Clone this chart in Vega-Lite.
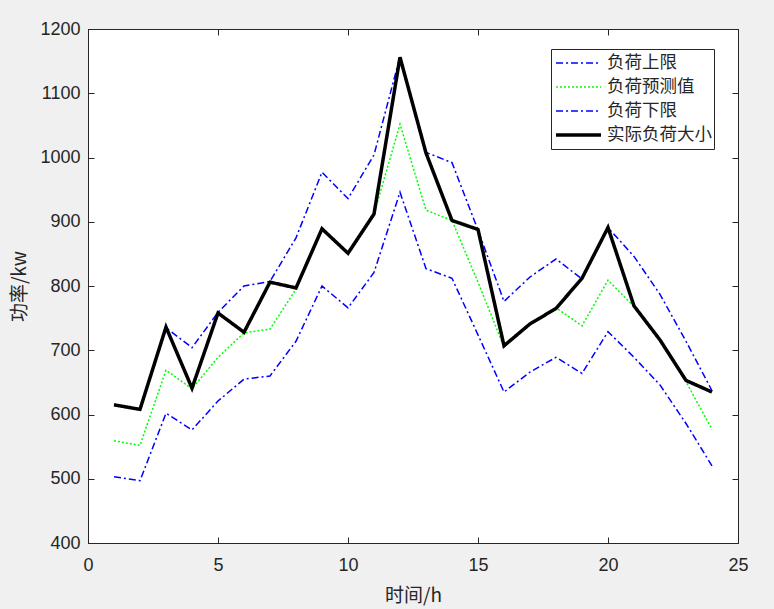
{
  "$schema": "https://vega.github.io/schema/vega-lite/v6.json",
  "autosize": "none",
  "width": 650,
  "height": 514,
  "padding": {"left": 88, "top": 29, "right": 36, "bottom": 66},
  "background": "#f0f0f0",
  "config": {
    "view": {"fill": "white", "stroke": "#262626", "strokeWidth": 1},
    "axis": {
      "domainColor": "#262626",
      "tickColor": "#262626",
      "labelColor": "#262626",
      "titleColor": "#262626",
      "grid": false,
      "labelFont": "Liberation Sans",
      "labelFontSize": 18,
      "titleFont": "Noto Sans CJK SC",
      "titleFontSize": 19,
      "titleFontWeight": "normal",
      "tickSize": -6,
      "labelFlush": false,
      "labelOverlap": false
    }
  },
  "datasets": {
    "bands": [
      {"hour": 1, "series": "负荷上限", "value": 616},
      {"hour": 2, "series": "负荷上限", "value": 607},
      {"hour": 3, "series": "负荷上限", "value": 735},
      {"hour": 4, "series": "负荷上限", "value": 704},
      {"hour": 5, "series": "负荷上限", "value": 759},
      {"hour": 6, "series": "负荷上限", "value": 800},
      {"hour": 7, "series": "负荷上限", "value": 807},
      {"hour": 8, "series": "负荷上限", "value": 875},
      {"hour": 9, "series": "负荷上限", "value": 977},
      {"hour": 10, "series": "负荷上限", "value": 936},
      {"hour": 11, "series": "负荷上限", "value": 1004},
      {"hour": 12, "series": "负荷上限", "value": 1157},
      {"hour": 13, "series": "负荷上限", "value": 1008},
      {"hour": 14, "series": "负荷上限", "value": 992},
      {"hour": 15, "series": "负荷上限", "value": 887},
      {"hour": 16, "series": "负荷上限", "value": 776},
      {"hour": 17, "series": "负荷上限", "value": 814},
      {"hour": 18, "series": "负荷上限", "value": 842},
      {"hour": 19, "series": "负荷上限", "value": 811},
      {"hour": 20, "series": "负荷上限", "value": 891},
      {"hour": 21, "series": "负荷上限", "value": 846},
      {"hour": 22, "series": "负荷上限", "value": 787},
      {"hour": 23, "series": "负荷上限", "value": 714},
      {"hour": 24, "series": "负荷上限", "value": 637},
      {"hour": 1, "series": "负荷预测值", "value": 559},
      {"hour": 2, "series": "负荷预测值", "value": 552},
      {"hour": 3, "series": "负荷预测值", "value": 669},
      {"hour": 4, "series": "负荷预测值", "value": 640},
      {"hour": 5, "series": "负荷预测值", "value": 689},
      {"hour": 6, "series": "负荷预测值", "value": 727},
      {"hour": 7, "series": "负荷预测值", "value": 733},
      {"hour": 8, "series": "负荷预测值", "value": 795},
      {"hour": 9, "series": "负荷预测值", "value": 888},
      {"hour": 10, "series": "负荷预测值", "value": 851},
      {"hour": 11, "series": "负荷预测值", "value": 912},
      {"hour": 12, "series": "负荷预测值", "value": 1052},
      {"hour": 13, "series": "负荷预测值", "value": 918},
      {"hour": 14, "series": "负荷预测值", "value": 902},
      {"hour": 15, "series": "负荷预测值", "value": 806},
      {"hour": 16, "series": "负荷预测值", "value": 705},
      {"hour": 17, "series": "负荷预测值", "value": 740},
      {"hour": 18, "series": "负荷预测值", "value": 766},
      {"hour": 19, "series": "负荷预测值", "value": 738},
      {"hour": 20, "series": "负荷预测值", "value": 809},
      {"hour": 21, "series": "负荷预测值", "value": 768},
      {"hour": 22, "series": "负荷预测值", "value": 716},
      {"hour": 23, "series": "负荷预测值", "value": 651},
      {"hour": 24, "series": "负荷预测值", "value": 577},
      {"hour": 1, "series": "负荷下限", "value": 503},
      {"hour": 2, "series": "负荷下限", "value": 497},
      {"hour": 3, "series": "负荷下限", "value": 602},
      {"hour": 4, "series": "负荷下限", "value": 576},
      {"hour": 5, "series": "负荷下限", "value": 621},
      {"hour": 6, "series": "负荷下限", "value": 655},
      {"hour": 7, "series": "负荷下限", "value": 660},
      {"hour": 8, "series": "负荷下限", "value": 714},
      {"hour": 9, "series": "负荷下限", "value": 800},
      {"hour": 10, "series": "负荷下限", "value": 766},
      {"hour": 11, "series": "负荷下限", "value": 821},
      {"hour": 12, "series": "负荷下限", "value": 946},
      {"hour": 13, "series": "负荷下限", "value": 827},
      {"hour": 14, "series": "负荷下限", "value": 812},
      {"hour": 15, "series": "负荷下限", "value": 724},
      {"hour": 16, "series": "负荷下限", "value": 635},
      {"hour": 17, "series": "负荷下限", "value": 666},
      {"hour": 18, "series": "负荷下限", "value": 689},
      {"hour": 19, "series": "负荷下限", "value": 664},
      {"hour": 20, "series": "负荷下限", "value": 729},
      {"hour": 21, "series": "负荷下限", "value": 689},
      {"hour": 22, "series": "负荷下限", "value": 646},
      {"hour": 23, "series": "负荷下限", "value": 586},
      {"hour": 24, "series": "负荷下限", "value": 520}
    ],
    "actual": [
      {"hour": 1, "series": "实际负荷大小", "value": 615},
      {"hour": 2, "series": "实际负荷大小", "value": 608},
      {"hour": 3, "series": "实际负荷大小", "value": 736},
      {"hour": 4, "series": "实际负荷大小", "value": 641},
      {"hour": 5, "series": "实际负荷大小", "value": 758},
      {"hour": 6, "series": "实际负荷大小", "value": 728},
      {"hour": 7, "series": "实际负荷大小", "value": 806},
      {"hour": 8, "series": "实际负荷大小", "value": 797},
      {"hour": 9, "series": "实际负荷大小", "value": 889},
      {"hour": 10, "series": "实际负荷大小", "value": 851},
      {"hour": 11, "series": "实际负荷大小", "value": 912},
      {"hour": 12, "series": "实际负荷大小", "value": 1156},
      {"hour": 13, "series": "实际负荷大小", "value": 1007},
      {"hour": 14, "series": "实际负荷大小", "value": 902},
      {"hour": 15, "series": "实际负荷大小", "value": 888},
      {"hour": 16, "series": "实际负荷大小", "value": 707},
      {"hour": 17, "series": "实际负荷大小", "value": 741},
      {"hour": 18, "series": "实际负荷大小", "value": 765},
      {"hour": 19, "series": "实际负荷大小", "value": 812},
      {"hour": 20, "series": "实际负荷大小", "value": 891},
      {"hour": 21, "series": "实际负荷大小", "value": 769},
      {"hour": 22, "series": "实际负荷大小", "value": 716},
      {"hour": 23, "series": "实际负荷大小", "value": 653},
      {"hour": 24, "series": "实际负荷大小", "value": 635}
    ]
  },
  "resolve": {"axis": {"x": "independent", "y": "independent"}},
  "layer": [
    {
      "data": {"name": "bands"},
      "mark": {"type": "line", "clip": true, "strokeWidth": 1.5},
      "encoding": {
        "x": {"field": "hour", "type": "quantitative", "scale": {"domain": [0, 25], "nice": false},
              "axis": {"orient": "bottom", "title": "时间/h", "values": [0, 5, 10, 15, 20, 25], "labelPadding": 19, "titlePadding": 12}},
        "y": {"field": "value", "type": "quantitative", "scale": {"domain": [400, 1200], "nice": false, "zero": false},
              "axis": {"orient": "left", "title": "功率/kw", "format": "d", "values": [400, 500, 600, 700, 800, 900, 1000, 1100, 1200], "labelPadding": 14, "titlePadding": 10}},
        "color": {"field": "series", "type": "nominal",
                  "scale": {"domain": ["负荷上限", "负荷预测值", "负荷下限", "实际负荷大小"], "range": ["#0000ff", "#00ff00", "#0000ff", "#000000"]},
                  "legend": {
                    "title": null, "orient": "none", "legendX": 463, "legendY": 20,
                    "fillColor": "white", "strokeColor": "#262626", "padding": 2,
                    "symbolType": "stroke", "symbolSize": 2025, "symbolOffset": 2,
                    "labelFont": "Noto Sans CJK SC", "labelFontSize": 17.5, "labelColor": "#262626",
                    "labelOffset": 5, "rowPadding": 0, "clipHeight": 24,
                    "encode": {"symbols": {"update": {"strokeWidth": {"signal": "(datum.value === '实际负荷大小' ? 3.5 : 1.5)"}}}}
                  }},
        "strokeDash": {"field": "series", "type": "nominal",
                       "scale": {"domain": ["负荷上限", "负荷预测值", "负荷下限", "实际负荷大小"], "range": [[7, 3, 2, 3], [2, 2], [7, 3, 2, 3], [1, 0]]}},
        "detail": {"field": "series"}
      }
    },
    {
      "data": {"name": "actual"},
      "mark": {"type": "line", "clip": true, "strokeWidth": 3.5},
      "encoding": {
        "x": {"field": "hour", "type": "quantitative", "axis": null},
        "y": {"field": "value", "type": "quantitative", "axis": null},
        "color": {"field": "series", "type": "nominal"},
        "strokeDash": {"field": "series", "type": "nominal"}
      }
    },
    {
      "data": {"name": "actual"},
      "mark": {"type": "point", "opacity": 0},
      "encoding": {
        "x": {"field": "hour", "type": "quantitative",
              "axis": {"orient": "top", "labels": false, "title": null, "values": [0, 5, 10, 15, 20, 25]}},
        "y": {"field": "value", "type": "quantitative",
              "axis": {"orient": "right", "labels": false, "title": null, "values": [400, 500, 600, 700, 800, 900, 1000, 1100, 1200]}}
      }
    }
  ]
}
